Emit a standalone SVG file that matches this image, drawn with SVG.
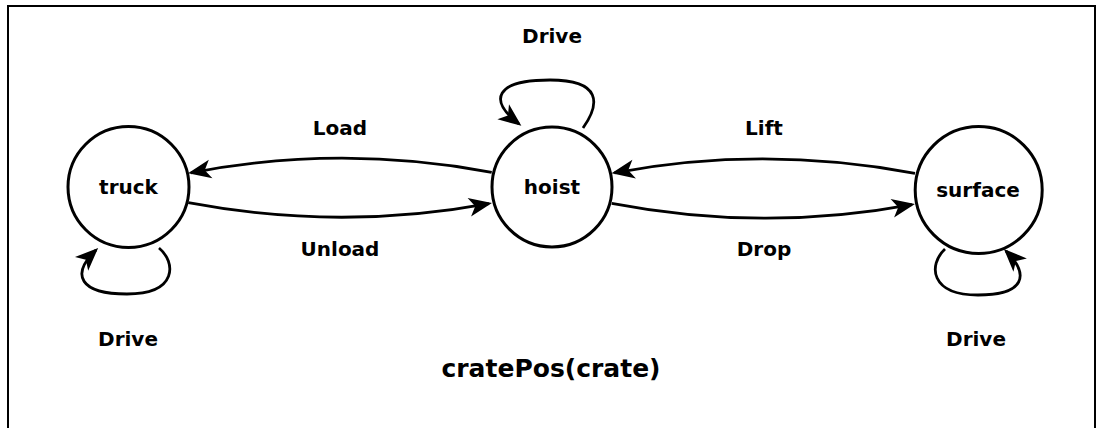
<svg xmlns="http://www.w3.org/2000/svg" width="1096" height="428" viewBox="0 0 1096 428">
<style>
text{font-family:"DejaVu Sans","Liberation Sans",sans-serif;font-weight:bold;fill:#000;text-anchor:middle}
.lbl{font-size:20px}
.title{font-size:25px}
.node{fill:#fff;stroke:#000;stroke-width:3}
.edge{fill:none;stroke:#000;stroke-width:2.8}
</style>
<defs>
<marker id="arr" markerUnits="userSpaceOnUse" markerWidth="30" markerHeight="24" viewBox="-24 -12 30 24" refX="0" refY="0" orient="auto" overflow="visible">
<path d="M3,0 L-20,-9.5 L-14,0 L-20,9.5 Z" fill="#000"/>
</marker>
</defs>
<rect x="8" y="6" width="1087" height="440" fill="#fff" stroke="#000" stroke-width="2"/>
<g id="connectors">
<path class="edge" d="M491.7,172.3 Q340,143.8 191,172.8" marker-end="url(#arr)"/>
<path class="edge" d="M188.3,202.7 Q340,231.3 489,203.6" marker-end="url(#arr)"/>
<path class="edge" d="M915,173.3 Q763,144.7 614.5,172.8" marker-end="url(#arr)"/>
<path class="edge" d="M611.7,203.3 Q763,232.4 912,204.6" marker-end="url(#arr)"/>
<path class="edge" d="M583,128 C600,104 602,80 550,80 C495,80 488,100 519,124" marker-end="url(#arr)"/>
<path class="edge" d="M159,248 C176,262 178,294 127,294 C80,294 70,275 96,250" marker-end="url(#arr)"/>
<path class="edge" d="M945,249 C928,265 930,295 978,295 C1025,295 1030,275 1006,251" marker-end="url(#arr)"/>
<text class="lbl" x="340" y="135">Load</text>
<text class="lbl" x="340" y="255.5">Unload</text>
<text class="lbl" x="764" y="135">Lift</text>
<text class="lbl" x="764" y="255.5">Drop</text>
<text class="lbl" x="552" y="42.7">Drive</text>
<text class="lbl" x="128" y="346">Drive</text>
<text class="lbl" x="976" y="346">Drive</text>
</g>
<g id="truck">
<circle class="node" cx="128.5" cy="187" r="60.5"/>
<text class="lbl" x="128.5" y="194">truck</text>
</g>
<g id="hoist">
<circle class="node" cx="552" cy="187" r="60"/>
<text class="lbl" x="552" y="194">hoist</text>
</g>
<g id="surface">
<circle class="node" cx="978.7" cy="190" r="63.5"/>
<text class="lbl" x="978" y="197">surface</text>
</g>
<text class="title" x="551" y="377">cratePos(crate)</text>
</svg>
